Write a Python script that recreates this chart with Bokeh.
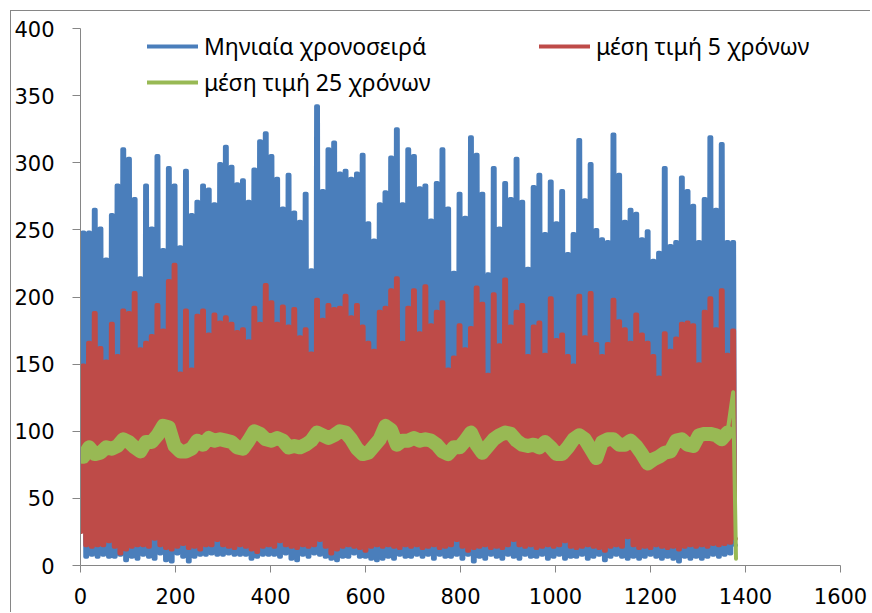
from bokeh.plotting import figure
from bokeh.models import Range1d, FixedTicker, Legend, LegendItem
from bokeh.embed import file_html
from bokeh.resources import INLINE

# ---------------- data ----------------
series_names = ["Μηνιαία χρονοσειρά", "μέση τιμή 5 χρόνων", "μέση τιμή 25 χρόνων"]
months_per_year = 12

# yearly highs of the monthly series (years 0..114)
blue_peaks = [248, 248, 265, 251, 228, 261, 283, 310, 303, 273,
              214, 283, 251, 305, 235, 296, 283, 237, 294, 261,
              271, 283, 280, 269, 299, 312, 297, 284, 287, 271,
              295, 316, 322, 305, 288, 266, 291, 263, 256, 277,
              220, 342, 279, 310, 315, 292, 294, 288, 292, 306,
              255, 242, 269, 278, 304, 325, 269, 310, 305, 281,
              283, 257, 285, 310, 266, 218, 277, 259, 319, 306,
              277, 217, 296, 251, 285, 273, 303, 271, 221, 282,
              291, 247, 286, 255, 279, 232, 247, 317, 272, 299,
              250, 243, 241, 321, 291, 256, 265, 262, 243, 249,
              227, 233, 296, 238, 241, 289, 279, 268, 241, 273,
              319, 265, 314, 241, 241]
# yearly lows of the monthly series (years 0..115)
blue_troughs = [27, 6.5, 8, 6.5, 8, 6.5, 6.5, 8, 4, 6.5,
                5, 8, 6.5, 5, 9, 4, 3, 9, 6.5, 3,
                6.5, 8, 8, 9, 8, 8, 9, 8, 8, 8,
                5, 6.5, 8, 8, 8, 6.5, 9, 5, 4, 8,
                6.5, 9, 8, 6.5, 5, 4, 6.5, 6.5, 9, 6.5,
                6.5, 5, 4, 5, 6.5, 5, 8, 6.5, 6.5, 8,
                6.5, 8, 5, 8, 6.5, 6.5, 8, 5, 8, 3,
                6.5, 5, 8, 6.5, 5, 8, 6.5, 5, 8, 6.5,
                6.5, 8, 5, 6.5, 8, 5, 6.5, 6.5, 8, 5,
                6.5, 8, 4, 6.5, 8, 6.5, 5, 6.5, 5, 6.5,
                8, 6.5, 5, 6.5, 5, 3, 6.5, 5, 6.5, 5,
                6.5, 8, 6.5, 8, 9, 15]

# yearly highs / lows of the 5-year mean
red_peaks = [149, 166, 188, 162, 152, 180, 156, 190, 188, 203,
             161, 166, 171, 194, 175, 212, 224, 143, 190, 146,
             186, 190, 172, 187, 181, 185, 180, 174, 176, 167,
             192, 180, 209, 196, 180, 193, 178, 191, 170, 176,
             158, 198, 183, 194, 191, 192, 201, 185, 194, 178,
             166, 160, 189, 192, 205, 214, 166, 192, 205, 173,
             208, 179, 189, 196, 146, 155, 179, 161, 177, 207,
             195, 142, 202, 164, 213, 178, 189, 194, 156, 178,
             181, 157, 199, 168, 172, 156, 149, 201, 170, 203,
             165, 156, 165, 198, 182, 176, 166, 187, 172, 166,
             156, 140, 173, 160, 169, 180, 181, 179, 150, 189,
             199, 176, 205, 157, 175]
red_troughs = [25, 15, 14, 15, 15, 18, 14, 9, 12, 14,
               15, 15, 14, 20, 15, 13, 12, 14, 16, 13,
               14, 12, 15, 15, 19, 15, 14, 13, 15, 14,
               12, 10, 14, 15, 14, 18, 15, 14, 13, 15,
               14, 15, 19, 14, 9, 12, 14, 15, 14, 13,
               11, 14, 15, 14, 15, 14, 13, 15, 14, 15,
               13, 14, 15, 13, 14, 15, 19, 14, 11, 13,
               14, 15, 13, 14, 13, 15, 19, 15, 14, 15,
               13, 14, 15, 14, 15, 18, 14, 13, 14, 15,
               14, 13, 11, 14, 15, 14, 21, 15, 13, 14,
               13, 15, 14, 13, 14, 12, 14, 15, 14, 15,
               14, 16, 15, 16, 17, 20]

# yearly level of the 25-year mean (years 0..113) and its final months
green_yearly = [81, 88, 83, 84, 88, 87, 89, 94, 92, 88,
                85, 92, 92, 97, 104, 103, 89, 85, 85, 87,
                93, 90, 95, 93, 94, 93, 92, 88, 87, 93,
                100, 98, 94, 93, 95, 93, 88, 89, 88, 90,
                93, 99, 97, 95, 97, 100, 99, 94, 87, 83,
                84, 89, 94, 104, 101, 90, 93, 93, 95, 93,
                94, 93, 90, 85, 83, 88, 88, 93, 99, 90,
                84, 89, 94, 97, 99, 98, 93, 90, 89, 90,
                88, 92, 88, 83, 83, 88, 94, 97, 94, 87,
                80, 92, 94, 94, 90, 90, 93, 89, 83, 76,
                79, 81, 84, 85, 93, 94, 90, 89, 97, 98,
                98, 97, 94, 99]
green_tail_months = [1374, 1380]
green_tail = [129, 5]

x_ticks = [0, 200, 400, 600, 800, 1000, 1200, 1400, 1600]
y_ticks = [0, 50, 100, 150, 200, 250, 300, 350, 400]

BLUE = "#4A7EBB"
RED = "#BE4B48"
GREEN = "#98B954"
AXIS = "#868686"
FONT = "Noto Sans"
TICK_FONT = "DejaVu Sans"


def seasonal_path(peaks, troughs):
    """Months/values of a series that rises from each year's low to its high."""
    xs, ys = [], []
    n = len(peaks)
    for k in range(n):
        m = months_per_year * k
        xs += [max(m - 2, 0), m + 2, m + 4, m + 8]
        ys += [troughs[k], troughs[k], peaks[k], peaks[k]]
    xs += [months_per_year * n - 2, months_per_year * n]
    ys += [troughs[n], troughs[n]]
    return xs, ys


bx, by = seasonal_path(blue_peaks, blue_troughs)
rx, ry = seasonal_path(red_peaks, red_troughs)
gx = [months_per_year * k + 6 for k in range(len(green_yearly))]
gy = list(green_yearly)
tx = [gx[-1]] + green_tail_months
ty = [gy[-1]] + green_tail

p = figure(width=860, height=602,
           x_range=Range1d(0, 1600), y_range=Range1d(0, 400),
           output_backend="svg", toolbar_location=None,
           min_border_left=69, min_border_right=31,
           min_border_top=17, min_border_bottom=48)
p.styles = {"border-left": "1px solid #868686", "border-top": "1px solid #868686",
            "margin-left": "10px", "margin-top": "10px"}
p.grid.visible = False
p.outline_line_color = None
p.background_fill_color = "white"
p.border_fill_color = "white"

r_blue = p.line(bx, by, line_color=BLUE, line_width=4, line_join="round", line_cap="round")
r_red = p.line(rx, ry, line_color=RED, line_width=4, line_join="round", line_cap="round")
r_green = p.line(gx, gy, line_color=GREEN, line_width=14, line_join="round", line_cap="round")
r_green_tail = p.line(tx, ty, line_color=GREEN, line_width=4, line_join="round", line_cap="round")

for ax in (p.xaxis[0], p.yaxis[0]):
    ax.axis_line_color = AXIS
    ax.major_tick_line_color = AXIS
    ax.minor_tick_line_color = None
    ax.major_tick_in = 0
    ax.major_label_text_font = TICK_FONT
    ax.major_label_text_font_size = "21px"
    ax.major_label_text_color = "#000000"
p.xaxis.ticker = FixedTicker(ticks=x_ticks)
p.yaxis.ticker = FixedTicker(ticks=y_ticks)
p.xaxis.major_tick_out = 7
p.yaxis.major_tick_out = 8
p.xaxis.major_label_standoff = 15
p.yaxis.major_label_standoff = 18

leg1 = Legend(items=[LegendItem(label=series_names[0], renderers=[r_blue]),
                     LegendItem(label=series_names[2], renderers=[r_green_tail])],
              location=(67, 467))
leg2 = Legend(items=[LegendItem(label=series_names[1], renderers=[r_red])],
              location=(459, 503))
for leg in (leg1, leg2):
    leg.padding = 0
    leg.margin = 0
    leg.spacing = 4
    leg.glyph_width = 51
    leg.glyph_height = 32
    leg.label_height = 32
    leg.label_standoff = 6
    leg.label_text_font = FONT
    leg.label_text_font_size = "23px"
    leg.label_text_color = "#000000"
    leg.background_fill_alpha = 0
    leg.border_line_color = None
    p.add_layout(leg)

open("out.html", "w").write(file_html(p, INLINE))
